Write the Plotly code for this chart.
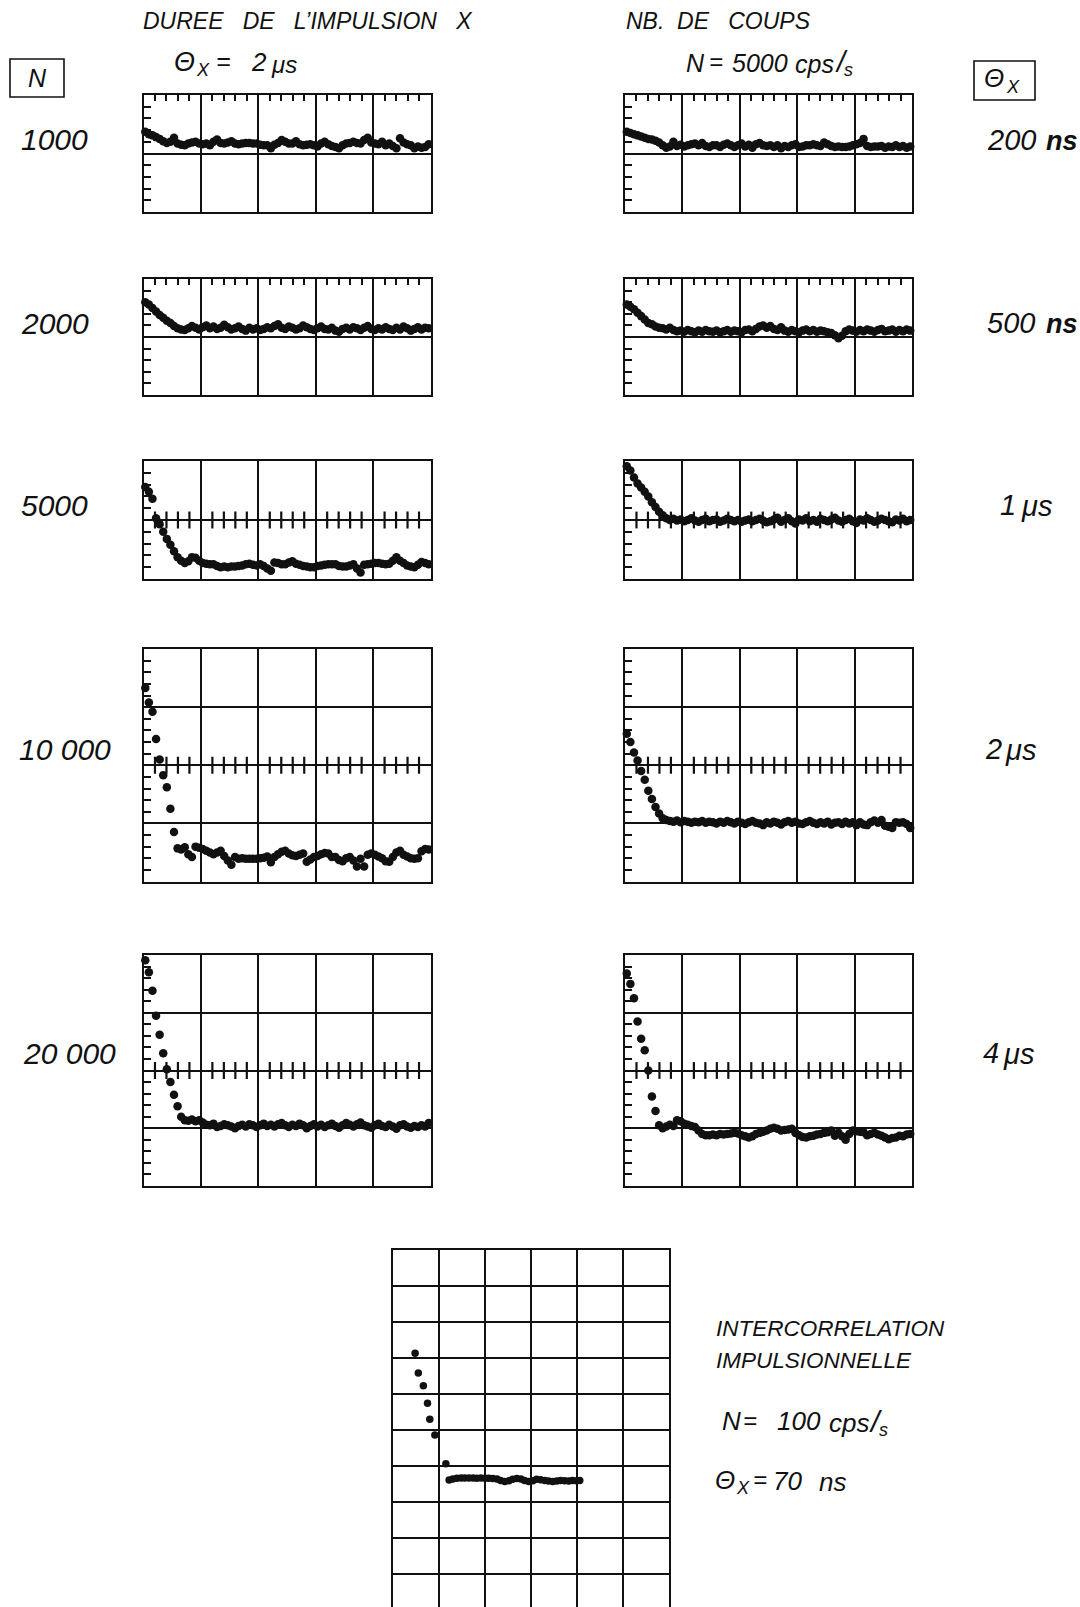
import numpy as np
import plotly.graph_objects as go

# ---------------- data ----------------
# 80 analyser channels across 5 horizontal divisions; values in vertical divisions
channels = np.arange(80) + 0.5

# left column : pulse duration 2 us, varying count rate N
n1000 = [1.37,1.33,1.31,1.28,1.25,1.21,1.18,1.20,1.27,1.17,
         1.15,1.14,1.17,1.19,1.20,1.17,1.16,1.17,1.14,1.20,
         1.24,1.18,1.17,1.19,1.21,1.17,1.16,1.17,1.18,1.18,
         1.17,1.17,1.15,1.14,1.14,1.09,1.15,1.18,1.23,1.20,
         1.17,1.17,1.21,1.16,1.14,1.15,1.16,1.14,1.12,1.17,
         1.20,1.16,1.13,1.11,1.09,1.14,1.17,1.18,1.20,1.18,
         1.17,1.23,1.27,1.19,1.17,1.16,1.20,1.14,1.17,1.13,
         1.09,1.26,1.19,1.16,1.14,1.09,1.12,1.10,1.11,1.16]
n2000 = [1.60,1.56,1.50,1.44,1.38,1.33,1.28,1.24,1.19,1.15,
         1.13,1.12,1.15,1.19,1.16,1.13,1.17,1.20,1.15,1.18,
         1.14,1.16,1.21,1.17,1.13,1.15,1.18,1.14,1.11,1.16,
         1.13,1.15,1.12,1.14,1.17,1.15,1.19,1.22,1.16,1.14,
         1.18,1.16,1.13,1.15,1.20,1.17,1.14,1.12,1.15,1.18,
         1.14,1.13,1.16,1.11,1.09,1.14,1.16,1.13,1.17,1.15,
         1.12,1.16,1.19,1.14,1.12,1.15,1.13,1.17,1.14,1.12,
         1.16,1.13,1.18,1.15,1.11,1.14,1.17,1.13,1.16,1.15]
n5000 = [1.56,1.48,1.36,1.03,0.93,0.80,0.68,0.58,0.47,0.37,
         0.31,0.27,0.30,0.37,0.36,0.31,0.27,0.26,0.25,0.25,
         0.22,0.20,0.21,0.20,0.21,0.21,0.22,0.23,0.25,0.26,
         0.24,0.23,0.25,0.22,0.18,0.14,0.28,0.27,0.25,0.25,
         0.28,0.30,0.26,0.24,0.22,0.21,0.20,0.20,0.22,0.23,
         0.24,0.25,0.25,0.25,0.22,0.21,0.21,0.23,0.25,0.18,
         0.11,0.24,0.25,0.26,0.27,0.27,0.26,0.25,0.26,0.31,
         0.37,0.31,0.27,0.23,0.21,0.20,0.24,0.29,0.27,0.25]
n10000 = [3.33,3.08,2.92,2.45,2.10,1.83,1.62,1.25,0.85,0.57,
          0.55,0.59,0.47,0.42,0.60,0.58,0.56,0.53,0.50,0.47,
          0.50,0.53,0.44,0.36,0.29,0.42,0.39,0.40,0.39,0.39,
          0.39,0.39,0.40,0.41,0.43,0.33,0.42,0.47,0.51,0.53,
          0.48,0.45,0.44,0.46,0.48,0.34,0.38,0.42,0.44,0.47,
          0.49,0.48,0.42,0.42,0.37,0.35,0.40,0.42,0.36,0.26,
          0.39,0.26,0.46,0.48,0.46,0.43,0.40,0.35,0.34,0.42,
          0.50,0.53,0.46,0.43,0.40,0.39,0.40,0.52,0.56,0.55]
n20000 = [3.91,3.70,3.38,2.95,2.62,2.30,2.02,1.80,1.58,1.38,
          1.20,1.14,1.13,1.15,1.12,1.14,1.10,1.06,1.05,1.08,
          1.02,1.04,1.07,1.05,1.03,1.00,1.04,1.06,1.03,1.07,
          1.05,1.02,1.05,1.08,1.04,1.06,1.03,1.07,1.09,1.05,
          1.02,1.06,1.04,1.08,1.05,1.00,1.04,1.07,1.03,1.06,
          1.02,1.05,1.08,1.04,1.01,1.05,1.09,1.06,1.03,1.07,
          1.10,1.05,1.03,1.01,1.05,1.08,1.04,1.02,1.06,1.03,
          0.99,1.05,1.07,1.03,1.01,1.04,1.02,1.05,1.03,1.09]

# right column : count rate 5000 cps/s, varying pulse duration
t200ns = [1.37,1.35,1.33,1.31,1.29,1.27,1.25,1.24,1.22,1.19,
          1.14,1.10,1.12,1.20,1.13,1.15,1.12,1.14,1.16,1.17,
          1.14,1.18,1.13,1.11,1.14,1.14,1.11,1.15,1.17,1.14,
          1.11,1.14,1.17,1.12,1.15,1.10,1.16,1.18,1.14,1.13,
          1.14,1.11,1.14,1.09,1.13,1.11,1.14,1.16,1.11,1.12,
          1.14,1.14,1.16,1.14,1.13,1.19,1.16,1.13,1.11,1.12,
          1.11,1.11,1.12,1.14,1.16,1.18,1.25,1.13,1.11,1.12,
          1.12,1.13,1.10,1.12,1.11,1.14,1.11,1.13,1.10,1.12]
t500ns = [1.56,1.52,1.48,1.42,1.36,1.30,1.24,1.22,1.18,1.16,
          1.15,1.13,1.16,1.12,1.10,1.11,1.09,1.12,1.10,1.08,
          1.11,1.09,1.12,1.10,1.09,1.11,1.08,1.10,1.12,1.09,
          1.11,1.10,1.08,1.12,1.13,1.10,1.14,1.18,1.20,1.16,
          1.19,1.14,1.12,1.17,1.11,1.09,1.12,1.10,1.08,1.11,
          1.13,1.10,1.12,1.09,1.11,1.10,1.08,1.07,1.03,0.98,
          1.02,1.10,1.13,1.11,1.09,1.12,1.10,1.13,1.11,1.09,
          1.12,1.14,1.10,1.11,1.13,1.09,1.12,1.10,1.13,1.11]
t1us = [1.91,1.84,1.72,1.62,1.55,1.48,1.40,1.30,1.22,1.14,
        1.08,1.03,1.00,1.02,0.99,1.01,0.98,1.00,1.03,0.99,
        0.97,1.00,1.02,0.98,1.00,1.01,0.97,0.99,1.02,1.00,
        0.98,1.00,0.97,0.99,1.01,0.98,1.00,1.02,0.99,0.96,
        0.98,1.01,1.04,0.97,1.00,1.03,0.98,0.94,1.01,0.99,
        1.03,0.98,1.00,0.97,1.02,1.00,0.98,1.01,1.04,0.99,
        0.97,1.00,1.02,0.98,0.95,1.01,0.99,1.03,1.00,0.97,
        0.99,1.02,1.00,0.98,0.96,1.01,0.99,1.02,0.98,1.00]
t2us = [2.54,2.40,2.22,2.08,1.90,1.75,1.56,1.42,1.28,1.17,
        1.09,1.06,1.04,1.03,1.05,1.02,1.04,1.03,1.01,1.03,
        1.02,1.04,1.01,1.03,1.02,1.00,1.03,1.01,1.04,1.02,
        1.00,1.03,1.01,0.99,1.02,1.04,1.01,1.00,0.97,1.02,
        1.00,1.03,1.01,0.98,1.02,1.04,1.01,1.03,1.00,0.99,
        1.02,1.04,1.01,0.99,1.02,1.00,1.03,0.98,1.01,1.02,
        0.99,1.03,1.00,1.02,0.97,1.02,0.98,0.97,1.02,1.05,
        1.01,1.06,0.96,0.94,0.92,1.02,1.01,1.02,0.99,0.92]
t4us = [3.68,3.50,3.25,2.85,2.55,2.35,2.00,1.55,1.30,1.05,
        1.00,1.03,1.06,1.04,1.14,1.12,1.08,1.06,1.04,1.02,
        0.96,0.90,0.88,0.88,0.89,0.88,0.90,0.89,0.90,0.91,
        0.92,0.91,0.88,0.86,0.84,0.86,0.90,0.92,0.94,0.96,
        0.99,1.01,0.99,0.96,0.97,0.98,0.99,0.92,0.88,0.85,
        0.84,0.86,0.87,0.89,0.90,0.92,0.93,0.96,0.87,0.92,
        0.86,0.80,0.90,0.96,0.95,0.94,0.93,0.88,0.90,0.92,
        0.89,0.87,0.84,0.81,0.83,0.84,0.87,0.86,0.89,0.90]

# bottom : impulse cross-correlation, N = 100 cps/s, theta = 70 ns (divisions)
ic_x = [0.48,0.55,0.66,0.75,0.80,0.91,1.15,
        1.22,1.30,1.39,1.48,1.56,1.65,1.74,1.82,1.91,2.00,
        2.08,2.17,2.26,2.34,2.43,2.52,2.60,2.69,2.78,2.86,
        2.95,3.04,3.12,3.21,3.30,3.38,3.47,3.56,3.64,3.73,
        3.82,3.90,3.99,4.06]
ic_y = [7.13,6.58,6.23,5.74,5.30,4.86,4.06,
        3.61,3.64,3.66,3.67,3.67,3.67,3.67,3.66,3.67,3.66,
        3.66,3.65,3.64,3.60,3.57,3.59,3.63,3.65,3.64,3.60,
        3.57,3.59,3.63,3.62,3.60,3.58,3.57,3.58,3.60,3.59,
        3.58,3.60,3.59,3.60]

left_labels = ["1000", "2000", "5000", "10 000", "20 000"]
right_values = ["200", "500", "1", "2", "4"]
right_units = ["ns", "ns", "\u03bcs", "\u03bcs", "\u03bcs"]

# ---------------- layout geometry ----------------
W, H = 1080, 1607
INK = "#111111"
FONT = "Liberation Sans, Arial, Helvetica, sans-serif"

def xdom(a, b):
    return [a / W, b / W]

def ydom(top, bottom):
    return [max(0.0, 1 - bottom / H), 1 - top / H]

rows_px = [(95, 212), (279, 395), (461, 579), (649, 881.5), (955, 1186)]
row_divs = [2, 2, 2, 4, 4]
row_tick_line = [None, None, 1, 2, 2]   # None -> ticks on top border
cols_px = [(143.5, 430.5), (625, 912)]
left_series = [n1000, n2000, n5000, n10000, n20000]
right_series = [t200ns, t500ns, t1us, t2us, t4us]

fig = go.Figure()
layout = dict(width=W, height=H, margin=dict(l=0, r=0, t=0, b=0), autosize=False,
              paper_bgcolor="white", plot_bgcolor="white", showlegend=False)

base = dict(showgrid=True, gridcolor=INK, gridwidth=2, showline=True, linecolor=INK,
            linewidth=2, mirror=True, zeroline=False, showticklabels=False, ticks="",
            fixedrange=True)

minor_positions = np.array([c for c in np.arange(0, 80.01, 3.2)
                            if abs(c / 16 - round(c / 16)) > 1e-6])

k = 0
for ci, series_set in enumerate([left_series, right_series]):
    for ri, series in enumerate(series_set):
        k += 1
        xa = "x" if k == 1 else f"x{k}"
        ya = "y" if k == 1 else f"y{k}"
        xkey = "xaxis" if k == 1 else f"xaxis{k}"
        ykey = "yaxis" if k == 1 else f"yaxis{k}"
        xd = dict(base, domain=xdom(*cols_px[ci]), range=[0, 80], tick0=0, dtick=16, anchor=ya)
        if row_tick_line[ri] is None:
            xd.update(side="top",
                      minor=dict(ticks="inside", tick0=0, dtick=3.2, ticklen=6, tickwidth=2,
                                 tickcolor=INK, showgrid=False))
        yd = dict(base, domain=ydom(*rows_px[ri]), range=[0, row_divs[ri]], tick0=0, dtick=1,
                  anchor=xa,
                  minor=dict(ticks="inside", tick0=0, dtick=0.2, ticklen=7, tickwidth=2,
                             tickcolor=INK, showgrid=False))
        layout[xkey] = xd
        layout[ykey] = yd
        if row_tick_line[ri] is not None:
            fig.add_trace(go.Scatter(x=minor_positions,
                                     y=np.full(len(minor_positions), row_tick_line[ri]),
                                     xaxis=xa, yaxis=ya, mode="markers", hoverinfo="skip",
                                     marker=dict(symbol="line-ns", size=12,
                                                 line=dict(color=INK, width=2.2))))
        fig.add_trace(go.Scatter(x=channels, y=series, xaxis=xa, yaxis=ya, mode="markers",
                                 hoverinfo="skip", cliponaxis=False,
                                 marker=dict(size=8.5, color=INK, line=dict(width=0))))

# bottom cross-correlation panel (6 x 10 divisions, bottom cut by the page)
k += 1
xa, ya = f"x{k}", f"y{k}"
bottom_visible = (H - 1250) / 36.0
layout[f"xaxis{k}"] = dict(base, domain=xdom(393, 669), range=[0, 6], tick0=0, dtick=1,
                           anchor=ya, side="top", mirror=False)
layout[f"yaxis{k}"] = dict(base, domain=ydom(1250, H), range=[10 - bottom_visible, 10],
                           tick0=0, dtick=1, anchor=xa)
fig.add_trace(go.Scatter(x=ic_x, y=ic_y, xaxis=xa, yaxis=ya, mode="markers", hoverinfo="skip",
                         cliponaxis=False, marker=dict(size=7.5, color=INK, line=dict(width=0))))

# ---------------- texts ----------------
ann = []

def put(s, x, y, size, weight="normal", anchor="left"):
    ann.append(dict(text=s, x=x / W, y=1 - y / H, xref="paper", yref="paper", showarrow=False,
                    xanchor=anchor, yanchor="middle", borderpad=0,
                    font=dict(family=FONT, size=size, color=INK, style="italic",
                              weight=weight)))

NB = "\u00a0"
# column headers
put(f"DUREE{NB*3}DE{NB*3}L\u2019IMPULSION{NB*3}X", 142, 21, 23)
put(f"NB.{NB*2}DE{NB*3}COUPS", 625, 21, 23)
# theta_X = 2 us
put("\u0398", 173, 62, 27)
put("X", 195, 70, 18)
put("=", 215, 61, 25)
put("2", 250, 62, 26)
put("\u03bcs", 270, 64, 24)
# N = 5000 cps/s
put("N", 685, 63, 25)
put("=", 708, 62, 24)
put("5000", 731, 63, 25)
put("cps", 794, 64, 25)
put("/", 834, 62, 29)
put("s", 843, 70, 18)

# boxed headers of the label columns
fig.add_shape(type="rect", xref="paper", yref="paper", x0=10 / W, x1=64 / W,
              y0=1 - 97 / H, y1=1 - 59 / H, line=dict(color=INK, width=1.6))
put("N", 37, 78, 25, anchor="center")
fig.add_shape(type="rect", xref="paper", yref="paper", x0=974 / W, x1=1035 / W,
              y0=1 - 100 / H, y1=1 - 61 / H, line=dict(color=INK, width=1.6))
put("\u0398", 983, 78, 26)
put("X", 1005, 87, 18)

row_centres = [140, 323, 505, 749, 1053]
left_x = [20, 20, 20, 18, 22]
val_x = [986, 986, 999, 984, 982]
unit_x = [1045, 1045, 1020, 1004, 1002]
unit_size = [27, 27, 29, 29, 29]
unit_weight = ["bold", "bold", "normal", "normal", "normal"]
for i in range(5):
    put(left_labels[i], left_x[i], row_centres[i], 30)
    put(right_values[i], val_x[i], row_centres[i], 29)
    put(right_units[i], unit_x[i], row_centres[i] + 1, unit_size[i], weight=unit_weight[i])

# cross-correlation caption
put("INTERCORRELATION", 715, 1328, 22.5)
put("IMPULSIONNELLE", 715, 1360, 22.5)
put("N", 721, 1421, 26)
put("=", 742, 1420, 24)
put("100", 776, 1421, 26)
put("cps", 828, 1423, 26)
put("/", 868, 1421, 30)
put("s", 878, 1430, 18)
put("\u0398", 714, 1480, 26)
put("X", 735, 1488, 18)
put("=", 752, 1479, 24)
put("70", 772, 1481, 26)
put("ns", 818, 1482, 26)

layout["annotations"] = ann
fig.update_layout(**layout)
fig.write_html("out.html", config={"displayModeBar": False, "staticPlot": True},
               post_script="document.body.style.margin='0px';")
